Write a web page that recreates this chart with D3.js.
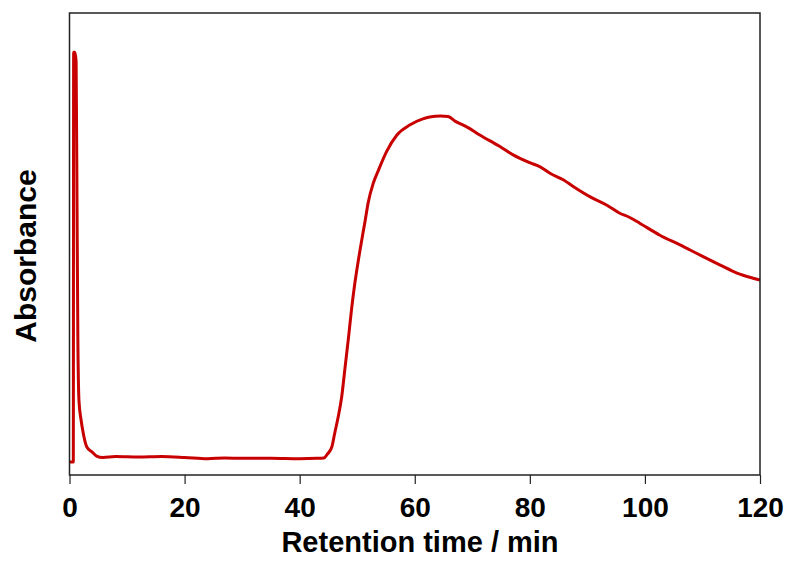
<!DOCTYPE html>
<html lang="en">
<head>
    <meta charset="UTF-8">
    <title>Chromatogram</title>
    <style>
        body { margin: 0; background: #fff; }
        svg { display: block; font-family: Arial, "Liberation Sans", sans-serif; }
    </style>
</head>
<body>
    <div id="chart"></div>

    <script src="https://d3js.org/d3.v7.min.js"></script>
    <script>
        const w = 791;
        const h = 561;
        const margin = { top: 13, right: 31, bottom: 86, left: 69.5 };
        const lineColor = '#c80000';

        // retention time (min) and absorbance (arbitrary units)
        const time = [
            0, 0.3, 0.66, 0.72, 0.95, 1.15, 1.3, 1.45, 1.65, 2.0, 2.4, 3.0, 3.9, 4.7, 5.8,
            8, 12, 16, 20, 24, 27, 30, 35, 40, 43, 44.2, 44.8,
            45.6, 46.1, 46.7, 47.3, 47.9, 48.5, 49.0, 49.6, 50.2, 50.8, 51.4, 51.9, 52.8, 53.7, 55.1,
            56.9, 59.2, 61.4, 62.6, 64.5, 65.8, 67.0, 69.1, 71.3, 74.8, 77.1, 80.0, 81.8, 83.5,
            85.8, 87.6, 90.5, 93.4, 95.7, 97.1, 99.1, 102.6, 106.1, 109.6, 113.0, 116.0, 118.8, 120
        ];
        const absorbance = [
            0.028, 0.028, 0.028, 0.915, 0.915, 0.895, 0.60, 0.30, 0.16, 0.12, 0.09, 0.061, 0.050, 0.041, 0.038,
            0.040, 0.039, 0.040, 0.038, 0.035, 0.037, 0.036, 0.036, 0.035, 0.036, 0.037, 0.045,
            0.061, 0.091, 0.126, 0.169, 0.234, 0.299, 0.357, 0.416, 0.465, 0.509, 0.552, 0.589, 0.632, 0.660, 0.700,
            0.736, 0.758, 0.771, 0.775, 0.777, 0.776, 0.766, 0.753, 0.736, 0.711, 0.693, 0.676, 0.667, 0.653,
            0.639, 0.624, 0.602, 0.584, 0.566, 0.559, 0.545, 0.519, 0.498, 0.476, 0.455, 0.437, 0.426, 0.422
        ];
        const xTicks = [0, 20, 40, 60, 80, 100, 120];

        const dataset = time.map((t, i) => ({ t: t, a: absorbance[i] }));

        const xScale = d3.scaleLinear()
            .domain([0, 120])
            .range([margin.left, w - margin.right]);

        const yScale = d3.scaleLinear()
            .domain([0, 1])
            .range([h - margin.bottom, margin.top]);

        const svg = d3.select('#chart')
            .append('svg')
            .attr('width', w)
            .attr('height', h);

        // x axis with outward ticks
        const xAxis = d3.axisBottom(xScale)
            .tickValues(xTicks)
            .tickSize(9)
            .tickSizeOuter(0);

        const gx = svg.append('g')
            .attr('transform', `translate(0, ${h - margin.bottom})`)
            .call(xAxis);
        gx.select('.domain').remove();
        gx.selectAll('.tick line')
            .attr('stroke', '#222')
            .attr('stroke-width', 1.2);
        gx.selectAll('.tick text')
            .attr('y', 42)
            .attr('dy', 0)
            .attr('fill', '#000')
            .style('font-size', '28px')
            .style('font-weight', 'bold');

        // trace
        const line = d3.line()
            .curve(d3.curveMonotoneX)
            .x(d => xScale(d.t))
            .y(d => yScale(d.a));

        svg.append('path')
            .datum(dataset)
            .attr('d', line)
            .attr('fill', 'none')
            .attr('stroke', lineColor)
            .attr('stroke-width', 3)
            .attr('stroke-linejoin', 'round');

        // frame
        svg.append('rect')
            .attr('x', margin.left)
            .attr('y', margin.top)
            .attr('width', w - margin.left - margin.right)
            .attr('height', h - margin.top - margin.bottom)
            .attr('fill', 'none')
            .attr('stroke', '#222')
            .attr('stroke-width', 1.5);

        // axis titles
        svg.append('text')
            .attr('x', 420)
            .attr('y', 552)
            .attr('text-anchor', 'middle')
            .style('font-size', '29px')
            .style('font-weight', 'bold')
            .text('Retention time / min');

        svg.append('text')
            .attr('transform', 'translate(36, 256) rotate(-90)')
            .attr('text-anchor', 'middle')
            .style('font-size', '30px')
            .style('font-weight', 'bold')
            .text('Absorbance');
    </script>
</body>
</html>
